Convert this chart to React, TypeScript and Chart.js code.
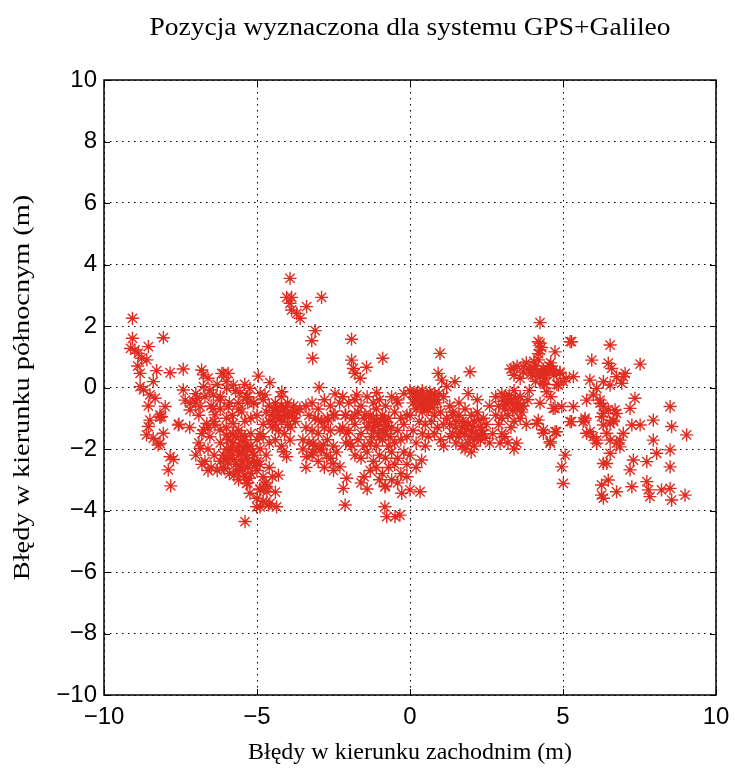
import { useEffect, useRef } from 'react';
import { Chart, registerables } from 'chart.js';

Chart.register(...registerables);

const chartTitle = 'Pozycja wyznaczona dla systemu GPS+Galileo';
const xAxisTitle = 'Błędy w kierunku zachodnim (m)';
const yAxisTitle = 'Błędy w kierunku północnym (m)';

const xTickValues = [-10, -5, 0, 5, 10];
const xTickLabels = ['\u221210', '\u22125', '0', '5', '10'];
const yTickValues = [-10, -8, -6, -4, -2, 0, 2, 4, 6, 8, 10];
const yTickLabels = ['\u221210', '\u22128', '\u22126', '\u22124', '\u22122', '0', '2', '4', '6', '8', '10'];

type P = [number, number];

const farWestPoints: P[] = [
  [-9.07, 2.25], [-9.07, 1.6], [-8.06, 1.62], [-9.13, 1.27], [-8.99, 1.22], [-8.88, 1.11], [-8.77, 0.95],
  [-8.55, 1.33], [-8.82, 0.46], [-8.28, 0.55], [-7.84, 0.48], [-7.41, 0.6], [-8.82, 0.03], [-8.71, -0.08],
  [-8.39, 0.19], [-8.5, -0.24], [-8.33, -0.35], [-8.55, -0.6], [-8.0, -0.62], [-8.17, -0.89], [-7.41, -0.08],
  [-7.35, -0.41], [-7.19, -0.51], [-7.19, -0.73], [-8.55, -1.27], [-8.17, -0.97], [-8.39, -1.65], [-8.23, -1.87],
  [-8.06, -1.49], [-8.61, -1.54], [-7.55, -1.19], [-7.73, -2.34], [-7.9, -2.68], [-7.82, -3.2], [-8.5, -1.06],
  [-8.12, -0.95], [-8.17, -1.82], [-7.57, -1.22], [-7.84, -2.25], [-8.6, 0.9], [-8.9, 0.7],
];

const westPoints: P[] = [
  [-6.81, 0.57], [-6.75, 0.41], [-6.15, 0.46], [-5.94, 0.46], [-6.97, -0.35], [-6.75, 0.03], [-6.54, -0.08],
  [-6.43, -0.24], [-6.21, -0.41], [-5.99, -0.03], [-5.77, 0.08], [-5.56, -0.19], [-5.34, -0.3], [-6.86, -0.62],
  [-6.43, -0.68], [-5.94, -0.62], [-5.61, -0.51], [-6.37, -0.89], [-7.0, -0.2], [-6.7, -0.3], [-6.5, -0.6],
  [-6.2, -0.3], [-5.9, -0.5], [-5.6, -0.7], [-5.3, -0.5], [-6.6, 0.3], [-6.3, 0.1], [-6.0, 0.2], [-5.7, -0.1],
  [-5.4, 0.1], [-6.1, 0.45], [-4.96, 0.37], [-4.58, 0.16], [-4.19, -0.14], [-5.23, -0.03], [-4.74, -0.24],
  [-5.34, -0.3], [-5.12, -0.51], [-5.8, -0.9], [-6.0, -1.0], [-6.2, -0.7], [-6.4, -1.1], [-5.5, -0.8],
  [-5.4, -1.1], [-5.2, -1.0], [-5.0, -0.9], [-4.8, -0.4], [-5.1, -0.5], [-5.3, -0.3], [-4.9, -0.2],
  [-6.9, -0.9], [-7.0, -0.5],
];

const southWestPoints: P[] = [
  [-6.86, -1.98], [-6.75, -1.38], [-6.64, -1.17], [-6.54, -1.6], [-6.37, -1.22], [-6.21, -1.38], [-5.99, -1.54],
  [-5.77, -1.17], [-6.6, -1.3], [-6.8, -1.5], [-6.9, -1.8], [-7.0, -2.2], [-6.8, -2.5], [-6.6, -2.7], [-7.2, -1.3],
  [-6.0, -1.3], [-5.8, -1.5], [-5.6, -1.4], [-5.4, -1.6], [-5.2, -1.5], [-5.0, -1.7], [-6.2, -1.8], [-6.0, -2.0],
  [-5.8, -1.8], [-5.6, -1.9], [-5.5, -2.1], [-5.3, -2.0], [-5.1, -2.2], [-4.9, -2.0], [-6.4, -2.2], [-6.2, -2.4],
  [-6.0, -2.3], [-5.8, -2.2], [-5.7, -2.5], [-5.5, -2.4], [-5.3, -2.6], [-5.1, -2.4], [-4.9, -2.5], [-6.5, -2.6],
  [-6.3, -2.7], [-6.1, -2.6], [-5.9, -2.8], [-5.6, -2.7], [-5.4, -2.9], [-5.2, -2.8], [-5.0, -2.7], [-4.8, -2.9],
  [-5.7, -1.6], [-5.5, -1.7], [-5.4, -2.2], [-5.6, -2.2], [-5.9, -2.1], [-5.2, -1.9], [-5.0, -2.4], [-6.1, -2.2],
  [-6.6, -2.0], [-6.7, -2.4], [-5.3, -3.1], [-5.6, -3.0], [-4.7, -2.2], [-4.6, -2.6], [-4.7, -3.1], [-4.5, -2.9],
  [-4.9, -3.3], [-4.4, -3.4], [-5.0, -3.6], [-4.8, -3.7],
  [-5.39, -4.36], [-4.9, -3.88], [-4.63, -3.82], [-4.36, -3.88], [-5.01, -3.88], [-4.58, -3.77], [-5.34, -3.12],
  [-4.9, -3.33], [-4.68, -3.23], [-5.23, -3.44], [-4.74, -3.17], [-4.68, -3.39], [-4.3, -2.85],
  [-5.65, -2.05], [-5.45, -1.95], [-5.35, -2.3], [-5.55, -2.55], [-5.75, -2.35], [-5.25, -2.45], [-5.85, -1.95],
  [-5.15, -2.1], [-5.45, -2.65], [-5.65, -2.75], [-5.95, -2.45], [-5.35, -1.8], [-5.05, -2.55], [-5.75, -2.85],
  [-6.05, -2.65], [-5.5, -1.55], [-5.25, -2.95], [-5.95, -1.7],
];

const midWestPoints: P[] = [
  [-4.6, -0.6], [-4.4, -0.5], [-4.2, -0.6], [-4.0, -0.5], [-3.8, -0.6], [-3.7, -0.8], [-4.5, -0.9], [-4.3, -0.8],
  [-4.1, -0.9], [-3.9, -0.8], [-4.6, -1.1], [-4.4, -1.2], [-4.2, -1.1], [-4.0, -1.2], [-3.8, -1.0], [-4.7, -0.8],
  [-4.3, -1.4], [-4.1, -1.5], [-3.9, -1.3], [-4.5, -1.3], [-4.8, -1.2], [-4.9, -1.5], [-3.6, -0.7], [-4.2, -0.3],
  [-4.4, -1.7], [-4.2, -1.9], [-4.6, -1.8], [-4.8, -1.6], [-4.03, -2.25], [-4.14, -2.09], [-3.92, -1.71],
  [-4.35, -0.65], [-4.15, -0.75], [-3.95, -0.95], [-4.25, -1.0], [-4.45, -0.75], [-4.05, -0.65], [-3.85, -0.85],
  [-4.3, -0.9], [-4.5, -1.05], [-3.75, -1.1],
];

const northPoints: P[] = [
  [-3.92, 3.55], [-4.03, 2.93], [-3.87, 2.93], [-3.92, 2.74], [-3.87, 2.52], [-3.7, 2.41], [-3.59, 2.25],
  [-3.38, 2.63], [-2.89, 2.93], [-3.1, 1.85], [-3.21, 1.52], [-3.18, 0.95], [-1.91, 1.57], [-1.91, 0.89],
  [-1.85, 0.62], [-1.8, 0.46], [-1.63, 0.3], [-1.42, 0.66], [-0.89, 0.95], [0.98, 1.11], [1.96, 0.51],
  [0.92, 0.46], [1.04, 0.24], [1.2, 0.03], [1.47, 0.19],
];

const centreWestPoints: P[] = [
  [-3.4, -0.6], [-3.2, -0.5], [-3.0, -0.7], [-2.8, -0.4], [-2.6, -0.6], [-3.3, -0.9], [-3.1, -1.0], [-2.9, -1.1],
  [-2.7, -1.0], [-2.5, -0.9], [-3.4, -1.3], [-3.2, -1.4], [-3.0, -1.5], [-2.8, -1.3], [-2.6, -1.4], [-3.5, -1.7],
  [-3.3, -1.8], [-2.7, -1.7], [-2.5, -1.9], [-2.4, -2.1], [-3.1, -1.9], [-2.9, -2.0], [-3.2, -2.2], [-3.0, -2.4],
  [-2.8, -2.6], [-2.6, -2.3], [-3.5, -2.0], [-3.4, -2.6], [-2.5, -2.7], [-2.3, -0.5],
  [-3.38, -2.25], [-3.16, -1.81], [-2.83, -1.87], [-2.72, -2.2], [-2.51, -2.47], [-2.29, -2.58], [-2.07, -2.95],
  [-2.18, -3.28], [-2.12, -3.82], [-3.0, -1.06], [-2.67, -1.06], [-2.45, -0.89], [-2.12, -0.89], [-1.8, -0.89],
  [-1.47, -0.89], [-2.29, -1.38], [-2.07, -1.49], [-1.96, -1.81], [-3.17, -2.1], [-2.94, -2.03], [-2.97, 0.0],
  [-2.45, -0.21], [-1.74, -0.24], [-1.09, -0.17], [-0.43, -0.41],
];

const centrePoints: P[] = [
  [-2.2, -0.3], [-2.0, -0.5], [-1.8, -0.4], [-1.6, -0.6], [-1.4, -0.3], [-1.2, -0.5], [-1.0, -0.4], [-0.8, -0.6],
  [-0.6, -0.3], [-0.4, -0.5], [-0.2, -0.2], [-2.1, -0.9], [-1.9, -1.0], [-1.7, -0.8], [-1.5, -1.0], [-1.3, -0.9],
  [-1.1, -1.1], [-0.9, -0.9], [-0.7, -1.0], [-0.5, -0.8], [-0.3, -1.0], [-0.1, -0.9], [-2.2, -1.3], [-2.0, -1.4],
  [-1.8, -1.2], [-1.6, -1.5], [-1.4, -1.3], [-1.2, -1.4], [-1.0, -1.2], [-0.8, -1.5], [-0.6, -1.3], [-0.4, -1.4],
  [-0.2, -1.2], [-2.1, -1.8], [-1.9, -1.9], [-1.7, -1.7], [-1.5, -1.9], [-1.3, -1.8], [-1.1, -1.9], [-0.9, -1.7],
  [-0.7, -1.9], [-0.5, -1.8], [-0.3, -1.7], [-0.1, -1.6], [-1.8, -2.2], [-1.6, -2.3], [-1.4, -2.1], [-1.2, -2.4],
  [-1.0, -2.2], [-0.8, -2.3], [-0.6, -2.1], [-0.4, -2.3], [-0.2, -2.1], [-1.3, -2.7], [-1.1, -2.6], [-0.9, -2.8],
  [-0.7, -2.6], [-0.5, -2.5], [-0.3, -2.8], [-0.1, -2.5], [-1.2, -1.0], [-1.0, -1.6], [-0.8, -1.1], [-1.1, -0.7],
  [-0.9, -1.4], [-0.6, -3.0], [-0.4, -3.1], [-0.8, -3.2], [-1.6, -3.1], [-1.4, -3.3], [-1.5, -2.9], [-1.0, -3.0],
  [-0.82, -3.23], [-0.82, -3.88], [-0.76, -4.2], [-0.49, -4.2], [-0.27, -3.44], [0.0, -3.33], [0.33, -3.39],
  [-0.33, -4.15], [0.38, -2.36],
  [-1.15, -1.25], [-0.95, -1.05], [-0.85, -1.35], [-1.05, -1.5], [-0.75, -1.25], [-1.25, -1.6], [-0.65, -1.6],
  [-1.35, -1.15],
];

const centreEastPoints: P[] = [
  [0.0, -0.1], [0.2, -0.2], [0.4, -0.1], [0.6, -0.3], [0.8, -0.2], [0.3, -0.4], [0.5, -0.5], [0.7, -0.4],
  [0.1, -0.5], [0.9, -0.5], [1.1, -0.3], [1.3, -0.6], [0.2, -0.7], [0.4, -0.8], [0.6, -0.7], [0.8, -0.9],
  [1.0, -0.8], [1.2, -1.0], [1.4, -0.9], [0.0, -0.9], [0.3, -1.1], [0.5, -1.2], [0.7, -1.1], [0.9, -1.3],
  [1.1, -1.2], [1.5, -1.3], [0.1, -1.4], [0.4, -1.5], [0.6, -1.6], [0.8, -1.5], [1.0, -1.7], [1.3, -1.6],
  [0.2, -1.8], [0.5, -1.9], [1.7, -1.1], [1.6, -0.5], [0.35, -0.3], [0.55, -0.25], [0.45, -0.6], [0.65, -0.55],
  [0.25, -0.45], [0.75, -0.65], [0.0, -2.2], [-0.1, -2.9], [0.2, -2.6],
  [0.15, -0.3], [0.45, -0.35], [0.65, -0.15], [0.85, -0.4], [0.35, -0.6], [0.55, -0.7], [0.25, -0.15],
  [0.7, -0.25], [0.95, -0.2], [0.1, -0.2],
  [1.4, -0.8], [1.6, -0.9], [1.8, -0.7], [2.0, -0.9], [2.2, -0.8], [2.4, -1.0], [1.3, -1.2], [1.5, -1.1],
  [1.7, -1.3], [1.9, -1.2], [2.1, -1.1], [2.3, -1.3], [2.5, -1.2], [1.4, -1.5], [1.6, -1.6], [1.8, -1.5],
  [2.0, -1.4], [2.2, -1.6], [2.4, -1.5], [1.5, -1.8], [1.7, -1.9], [1.9, -1.8], [2.1, -1.9], [2.3, -1.7],
  [2.6, -1.8], [1.8, -2.0], [2.0, -2.1], [1.1, -1.9], [2.6, -0.6], [2.2, -0.4], [1.9, -0.2],
  [1.85, -1.35], [2.05, -1.25], [2.15, -1.45], [1.95, -1.6], [1.75, -1.15], [2.25, -1.05], [2.35, -1.4],
  [1.65, -1.45], [2.45, -1.65], [2.1, -1.7],
  [2.8, -0.3], [3.0, -0.2], [3.2, -0.4], [3.4, -0.1], [3.6, -0.3], [2.9, -0.6], [3.1, -0.7], [3.3, -0.5],
  [3.5, -0.7], [3.7, -0.6], [2.8, -0.9], [3.0, -1.0], [3.2, -0.9], [3.4, -1.1], [3.6, -1.0], [2.9, -1.2],
  [3.3, -1.3], [3.8, -1.2], [2.94, -1.81], [3.49, -1.81], [2.7, -1.5], [3.1, -1.6], [3.1, -0.3], [3.38, -0.51],
  [3.6, -0.62], [3.0, -1.5], [3.4, -2.0], [3.2, -1.8],
  [3.25, -0.25], [3.45, -0.35], [3.55, -0.5], [3.15, -0.55], [3.35, -0.75], [3.05, -0.45], [3.65, -0.8],
  [3.85, -0.4],
];

const eastPoints: P[] = [
  [3.3, 0.6], [3.5, 0.7], [3.7, 0.5], [3.9, 0.6], [4.1, 0.7], [4.3, 0.5], [4.5, 0.6], [4.7, 0.4], [4.9, 0.5],
  [5.1, 0.3], [3.4, 0.4], [3.6, 0.3], [3.8, 0.8], [4.0, 0.4], [4.2, 0.9], [4.4, 0.3], [4.6, 0.8], [4.2, 1.1],
  [4.3, 1.3], [4.4, 0.1], [4.1, 0.2], [4.8, 0.1], [3.9, -0.1], [4.6, -0.3],
  [4.15, 0.5], [4.35, 0.6], [4.45, 0.45], [4.25, 0.35], [4.55, 0.7], [3.95, 0.45], [4.05, 0.85], [4.65, 0.55],
  [4.25, 2.11], [4.25, 1.44], [4.74, 1.16], [4.19, 1.49], [4.25, 1.22], [5.23, 1.49], [6.54, 1.38], [5.94, 0.89],
  [6.48, 0.79], [6.59, 0.62], [7.52, 0.76], [3.38, 0.62], [3.7, 0.68], [4.03, 0.62], [4.36, 0.46], [4.58, 0.57],
  [4.36, 0.14], [4.47, -0.14], [4.25, -0.51], [4.74, -0.68], [4.19, -1.06], [4.36, -1.38], [4.58, -1.76],
  [4.68, 0.57], [4.9, 0.46], [5.01, 0.19], [5.34, 0.35], [4.85, 0.08], [5.88, 0.24], [6.1, -0.03], [6.75, 0.35],
  [6.97, 0.35], [6.92, 0.14], [6.32, 0.19], [6.54, 0.08], [7.03, 0.46], [5.99, -0.24], [6.21, -0.41],
  [5.77, -0.41], [7.35, -0.35], [7.19, -0.68], [8.5, -0.62], [4.96, -0.62], [5.34, -0.62], [4.68, -0.68],
];

const farEastPoints: P[] = [
  [6.32, -0.62], [6.48, -0.73], [6.75, -0.84], [6.26, -0.95], [6.65, -1.06], [5.72, -1.06], [7.25, -1.22],
  [7.52, -1.22], [7.95, -1.06], [8.55, -1.27], [5.23, -1.11], [5.28, -1.11], [5.66, -1.11], [6.32, -1.22],
  [6.65, -1.11], [9.04, -1.54], [4.79, -1.44], [4.58, -1.81], [5.77, -1.49], [5.99, -1.6], [6.54, -1.71],
  [6.75, -1.81], [6.86, -1.93], [6.43, -1.49], [6.1, -1.81], [6.54, -2.14], [6.32, -2.47], [6.43, -2.47],
  [7.3, -2.36], [7.19, -2.68], [7.74, -2.41], [7.95, -1.71], [8.06, -2.14], [8.5, -2.03], [8.5, -2.58],
  [5.07, -2.2], [4.96, -2.58], [5.01, -3.12], [6.48, -3.01], [6.26, -3.17], [6.26, -3.5], [6.32, -3.6],
  [6.75, -3.39], [7.25, -3.23], [7.74, -3.06], [7.79, -3.33], [7.84, -3.55], [8.22, -3.33], [8.5, -3.28],
  [8.55, -3.66], [8.99, -3.5], [5.72, -1.0], [5.88, -1.44], [6.1, -1.71], [6.21, -0.51], [6.32, -0.84],
  [6.54, -1.17], [6.7, -0.73], [6.86, -1.71], [6.97, -1.49], [4.14, -1.17], [4.36, -1.49], [4.74, -1.44],
  [5.28, 1.49],
];

const allPoints = [
  ...farWestPoints, ...westPoints, ...southWestPoints, ...midWestPoints, ...northPoints,
  ...centreWestPoints, ...centrePoints, ...centreEastPoints, ...eastPoints, ...farEastPoints,
].map(([x, y]) => ({ x, y }));

const markerColor = 'rgb(224, 44, 32)';
const serif = '"Liberation Serif", "Times New Roman", serif';
const sans = '"Liberation Sans", Arial, sans-serif';

const framePlugin = {
  id: 'matlabFrame',
  afterDraw(chart: any) {
    const { ctx, chartArea, scales } = chart;
    const { left, right, top, bottom } = chartArea;
    const cx = (left + right) / 2;
    const cy = (top + bottom) / 2;
    ctx.save();
    // axes box
    ctx.strokeStyle = '#000';
    ctx.lineWidth = 1.5;
    ctx.strokeRect(left, top, right - left, bottom - top);
    // inward tick marks on all four sides
    ctx.lineWidth = 1;
    ctx.beginPath();
    const L = 6;
    xTickValues.forEach((v) => {
      const px = Math.round(scales.x.getPixelForValue(v)) + 0.5;
      ctx.moveTo(px, bottom);
      ctx.lineTo(px, bottom - L);
      ctx.moveTo(px, top);
      ctx.lineTo(px, top + L);
    });
    yTickValues.forEach((v) => {
      const py = Math.round(scales.y.getPixelForValue(v)) + 0.5;
      ctx.moveTo(left, py);
      ctx.lineTo(left + L, py);
      ctx.moveTo(right, py);
      ctx.lineTo(right - L, py);
    });
    ctx.stroke();

    ctx.fillStyle = '#000';
    // tick labels
    ctx.font = `24px ${sans}`;
    ctx.textBaseline = 'middle';
    ctx.textAlign = 'right';
    yTickValues.forEach((v, i) => {
      ctx.fillText(yTickLabels[i], left - 7, scales.y.getPixelForValue(v));
    });
    ctx.textAlign = 'center';
    xTickValues.forEach((v, i) => {
      ctx.fillText(xTickLabels[i], scales.x.getPixelForValue(v), bottom + 22);
    });

    // title
    ctx.font = `25px ${serif}`;
    ctx.save();
    ctx.translate(cx, 28);
    ctx.scale(1.1, 1);
    ctx.fillText(chartTitle, 0, 0);
    ctx.restore();

    // x axis title
    ctx.font = `24px ${serif}`;
    ctx.fillText(xAxisTitle, cx, bottom + 58);

    // y axis title
    ctx.save();
    ctx.translate(23, cy);
    ctx.rotate(-Math.PI / 2);
    ctx.scale(1.18, 1);
    ctx.fillText(yAxisTitle, 0, 0);
    ctx.restore();

    ctx.restore();
  },
};

export default function App() {
  const canvasRef = useRef<HTMLCanvasElement>(null);

  useEffect(() => {
    document.body.style.margin = '0';
    const canvas = canvasRef.current;
    if (!canvas) return;
    const chart = new Chart(canvas, {
      type: 'scatter',
      data: {
        datasets: [
          {
            data: allPoints,
            pointStyle: 'star',
            pointRadius: 6.6,
            pointBorderWidth: 1.4,
            borderColor: markerColor,
            backgroundColor: markerColor,
            showLine: false,
          },
        ],
      },
      options: {
        animation: false,
        responsive: false,
        devicePixelRatio: 1,
        layout: { padding: { top: 80, right: 19, left: 0, bottom: 0 } },
        plugins: {
          legend: { display: false },
          tooltip: { enabled: false },
          title: { display: false },
        },
        scales: {
          x: {
            type: 'linear',
            min: -10,
            max: 10,
            afterBuildTicks: (scale: any) => {
              scale.ticks = xTickValues.map((value) => ({ value }));
            },
            afterFit: (scale: any) => {
              scale.height = 75;
            },
            ticks: { display: false },
            grid: { color: '#000', lineWidth: 1, drawTicks: false },
            border: { display: false, dash: [1.5, 4.5] },
          },
          y: {
            type: 'linear',
            min: -10,
            max: 10,
            afterBuildTicks: (scale: any) => {
              scale.ticks = yTickValues.map((value) => ({ value }));
            },
            afterFit: (scale: any) => {
              scale.width = 104;
            },
            ticks: { display: false },
            grid: { color: '#000', lineWidth: 1, drawTicks: false },
            border: { display: false, dash: [1.5, 4.5] },
          },
        },
      },
      plugins: [framePlugin],
    });
    return () => chart.destroy();
  }, []);

  return (
    <div style={{ width: 735, height: 770 }}>
      <canvas ref={canvasRef} width={735} height={770} />
    </div>
  );
}
